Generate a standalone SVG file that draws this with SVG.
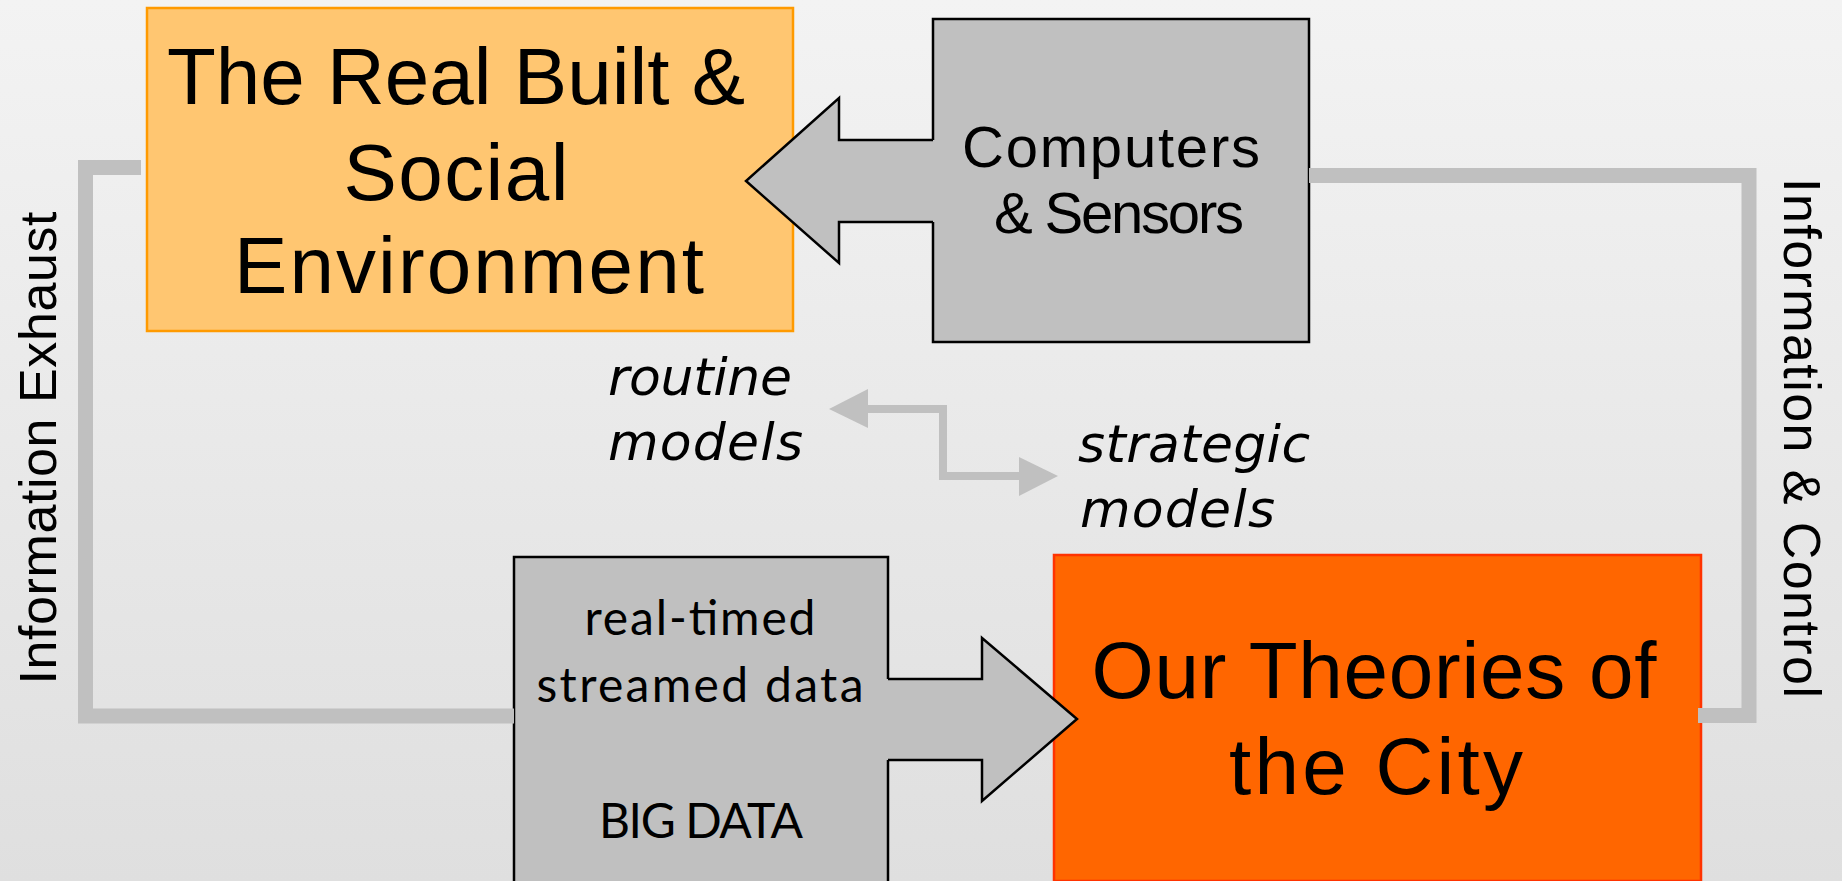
<svg xmlns="http://www.w3.org/2000/svg" width="1842" height="881" viewBox="0 0 1842 881">
<defs>
<linearGradient id="bg" x1="0" y1="0" x2="0" y2="1">
<stop offset="0" stop-color="#F3F3F3"/>
<stop offset="1" stop-color="#DFDFDF"/>
</linearGradient>
<style>
.big{font-family:"Liberation Sans",Arial,sans-serif;font-size:80px;fill:#000;text-anchor:middle}
.mid{font-family:"Liberation Sans",Arial,sans-serif;font-size:58px;fill:#000;text-anchor:middle}
.cal{font-family:Lato,"Open Sans",sans-serif;font-size:48px;fill:#000;text-anchor:middle}
.it{font-family:"DejaVu Sans",sans-serif;font-style:italic;font-size:52px;fill:#000}
.rot{font-family:"Liberation Sans",Arial,sans-serif;font-size:52px;fill:#000;text-anchor:middle}
.conn{fill:none;stroke:#C0C0C0;stroke-width:15;stroke-linejoin:miter}
.gbox{fill:#C0C0C0;stroke:#000;stroke-width:2.5}
.aout{fill:none;stroke:#000;stroke-width:2.5;stroke-linejoin:miter}
</style>
</defs>
<rect x="0" y="0" width="1842" height="881" fill="url(#bg)"/>

<g id="node-real-built">
<rect x="147" y="8" width="646" height="323" fill="#FFC671" stroke="#FF9A00" stroke-width="2.5"/>
<text class="big" x="456" y="104" textLength="578">The Real Built &amp;</text>
<text class="big" x="456" y="200" textLength="225">Social</text>
<text class="big" x="469" y="293" textLength="470">Environment</text>
</g>

<g id="node-theories">
<rect x="1054" y="555" width="647" height="326" fill="#FF6600" stroke="#FF3300" stroke-width="2.5"/>
<text class="big" x="1374" y="698" textLength="565">Our Theories of</text>
<text class="big" x="1376" y="794" textLength="294">the City</text>
</g>

<g id="node-computers">
<rect class="gbox" x="933" y="19" width="376" height="323"/>
<polygon points="746,181 839,98 839,140 936,140 936,222 839,222 839,263" fill="#C0C0C0"/>
<polyline class="aout" points="933,140 839,140 839,98 746,181 839,263 839,222 933,222"/>
<text class="mid" x="1111" y="167" textLength="298">Computers</text>
<text class="mid" x="1119" y="233" textLength="250">&amp; Sensors</text>
</g>

<g id="node-bigdata">
<rect class="gbox" x="514" y="557" width="374" height="330"/>
<polygon points="885,679 982,679 982,638 1077,719 982,801 982,760 885,760" fill="#C0C0C0"/>
<polyline class="aout" points="888,679 982,679 982,638 1077,719 982,801 982,760 888,760"/>
<text class="cal" x="700" y="635" textLength="231">real-timed</text>
<text class="cal" x="700" y="702" textLength="327">streamed data</text>
<text class="cal" x="701" y="838" textLength="204">BIG DATA</text>
</g>

<g id="node-models">
<text class="it" x="608" y="395" textLength="184">routine</text>
<text class="it" x="608" y="460" textLength="195">models</text>
<text class="it" x="1078" y="462" textLength="232">strategic</text>
<text class="it" x="1080" y="527" textLength="195">models</text>
</g>

<g id="connectors">
<path class="conn" d="M141,167.5 H85.5 V716 H514"/>
<path class="conn" d="M1309,175.5 H1749 V715.5 H1698"/>
<path d="M866,409 H943 V476 H1021" fill="none" stroke="#C0C0C0" stroke-width="8"/>
<polygon points="829,409 868,389 868,428" fill="#C0C0C0"/>
<polygon points="1058,476 1019,457 1019,496" fill="#C0C0C0"/>
</g>

<g id="labels">
<text class="rot" transform="translate(56,448) rotate(-90)" textLength="473">Information Exhaust</text>
<text class="rot" transform="translate(1784,438) rotate(90)" textLength="520">Information &amp; Control</text>
</g>
</svg>
